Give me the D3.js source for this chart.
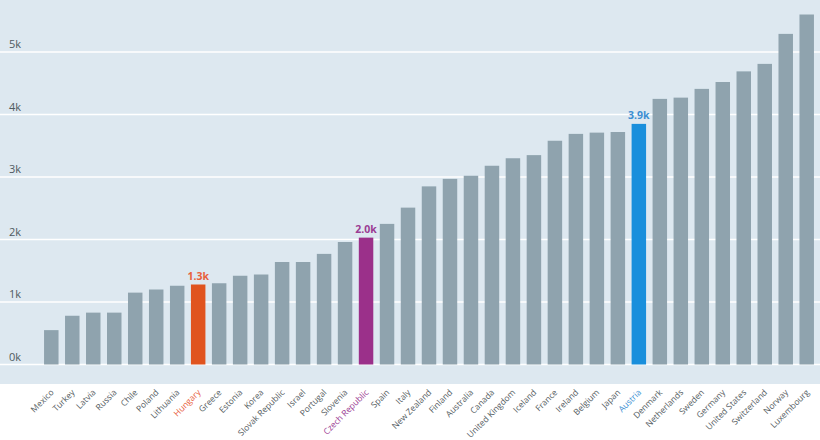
<!DOCTYPE html>
<html>
<head>
<meta charset="utf-8">
<script src="https://cdn.jsdelivr.net/npm/d3@7"></script>
<style>
  html, body { margin: 0; padding: 0; background: #ffffff; }
  svg { display: block; }
</style>
</head>
<body>
<svg id="chart" width="820" height="440"></svg>
<script>
const countries = ["Mexico","Turkey","Latvia","Russia","Chile","Poland","Lithuania","Hungary","Greece","Estonia","Korea","Slovak Republic","Israel","Portugal","Slovenia","Czech Republic","Spain","Italy","New Zealand","Finland","Australia","Canada","United Kingdom","Iceland","France","Ireland","Belgium","Japan","Austria","Denmark","Netherlands","Sweden","Germany","United States","Switzerland","Norway","Luxembourg"];
const values = [550,780,830,830,1150,1200,1260,1280,1300,1420,1440,1640,1640,1770,1960,2030,2250,2510,2850,2970,3020,3180,3300,3350,3580,3690,3710,3720,3850,4250,4270,4410,4520,4690,4810,5290,5600];
const yTicks = [0,1000,2000,3000,4000,5000];
const highlights = {"Hungary": {bar: "#e0541f", text: "#e8603c"}, "Czech Republic": {bar: "#9b308a", text: "#9b3c93"}, "Austria": {bar: "#198fdc", text: "#3c8fd2"}};

const svg = d3.select("#chart");
const W = 820, H = 440;

svg.append("rect").attr("x",0).attr("y",0).attr("width",W).attr("height",384).attr("fill","#dde8f0");

const x = d3.scaleBand().domain(countries).range([40.8, 817.2]).paddingInner(0.31).paddingOuter(0.155);
const y = d3.scaleLinear().domain([0,5000]).range([364.5, 52]);

// gridlines
svg.append("g").selectAll("line").data(yTicks).join("line")
  .attr("x1",0).attr("x2",W)
  .attr("y1",d=>y(d)).attr("y2",d=>y(d))
  .attr("stroke","#ffffff").attr("stroke-width",1.5);

// y tick labels
svg.append("g").selectAll("text").data(yTicks).join("text")
  .attr("x",9).attr("y",d=>y(d)-4)
  .attr("font-family","'Open Sans', 'DejaVu Sans', sans-serif")
  .attr("font-size",11).attr("fill","#505a60")
  .text(d=>d3.format("d")(d/1000)+"k");

// bars
svg.append("g").selectAll("rect").data(countries).join("rect")
  .attr("x",d=>x(d)).attr("width",x.bandwidth())
  .attr("y",(d,i)=>y(values[i])).attr("height",(d,i)=>y(0)-y(values[i]))
  .attr("fill",d=>highlights[d] ? highlights[d].bar : "#8fa3ae");

// annotations
svg.append("g").selectAll("text").data(countries.filter(c=>highlights[c])).join("text")
  .attr("x",d=>x(d)+x.bandwidth()/2)
  .attr("y",d=>y(values[countries.indexOf(d)])-5)
  .attr("text-anchor","middle")
  .attr("font-family","'Open Sans', 'DejaVu Sans', sans-serif")
  .attr("font-size",10.5).attr("font-weight","bold")
  .attr("fill",d=>highlights[d].text)
  .text(d=>d3.format(".1f")(values[countries.indexOf(d)]/1000)+"k");

// x labels
svg.append("g").selectAll("text").data(countries).join("text")
  .attr("transform",d=>`translate(${x(d)+x.bandwidth()/2+3},${393}) rotate(-45)`)
  .attr("text-anchor","end")
  .attr("font-family","'Open Sans', 'DejaVu Sans', sans-serif")
  .attr("font-size",8.5)
  .attr("fill",d=>highlights[d] ? highlights[d].text : "#555d62")
  .text(d=>d);
</script>
</body>
</html>
